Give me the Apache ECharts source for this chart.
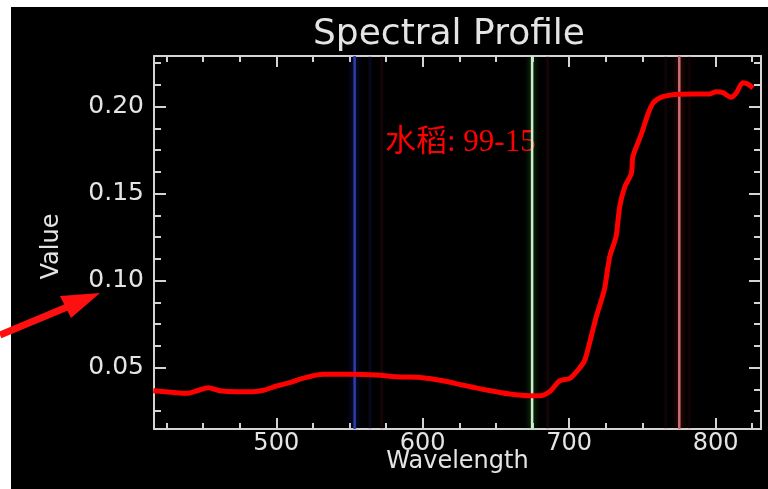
<!DOCTYPE html>
<html>
<head>
<meta charset="utf-8">
<script src="https://cdn.jsdelivr.net/npm/echarts@6.0.0/dist/echarts.min.js"></script>
<style>
  html, body { margin: 0; padding: 0; background: #fff; }
  #chart { width: 768px; height: 489px; }
</style>
</head>
<body>
<div id="chart"></div>
<script>
// spectrum (nm -> reflectance)
const wavelengths = [416, 424, 432, 439, 446, 453.5, 461.5, 473, 484, 492, 500, 509, 518, 532, 550, 568.5, 582,
  600, 614, 627.5, 643.5, 659.5, 673, 680, 687, 693.5, 700.5, 706, 710.5, 715, 718.5, 724, 726.5, 728, 732,
  734.5, 738, 742.5, 743.5, 749.5, 754, 757.5, 764, 775.5, 796, 800.5, 805, 810.5, 814, 818.5, 822, 825.5]
const values = [0.0368, 0.0362, 0.0356, 0.0353, 0.0368, 0.0385, 0.0368, 0.0362, 0.0362, 0.0372, 0.0395, 0.0414,
  0.0439, 0.0462, 0.0462, 0.0458, 0.0448, 0.0443, 0.0425, 0.0400, 0.0372, 0.0349, 0.0339, 0.0339, 0.0365,
  0.0425, 0.0439, 0.0487, 0.0540, 0.0678, 0.0793, 0.0947, 0.1080, 0.1148, 0.1253, 0.1425, 0.1540, 0.1617,
  0.1713, 0.1847, 0.1962, 0.2023, 0.2057, 0.2071, 0.2073, 0.2086, 0.2081, 0.2054, 0.2077, 0.2138, 0.2130, 0.2106]

// RGB band markers
const bandWavelengths = [553.5, 674.7, 775.2]
const bandColors = ['#2e3ea6', '#d0ecd0', '#c87070']
const bandGlow = ['rgba(40,60,220,0.6)', 'rgba(60,200,60,0.6)', 'rgba(220,40,40,0.6)']
const faintWavelengths = [564, 572, 685.3, 766, 782]
const faintColors = ['rgba(40,40,140,0.2)', 'rgba(110,20,30,0.18)', 'rgba(110,20,30,0.18)', 'rgba(110,20,30,0.15)', 'rgba(110,20,30,0.15)']

// ticks
const xMajor = [500, 600, 700, 800]
const xMinor = [425, 450, 475, 525, 550, 575, 625, 650, 675, 725, 750, 775, 825]
const yMajor = [0.05, 0.10, 0.15, 0.20]
const yMinor = [0.025, 0.0375, 0.0625, 0.075, 0.0875, 0.1125, 0.125, 0.1375, 0.1625, 0.175, 0.1875, 0.2125, 0.225]

const xMin = 416.5, xMax = 831
const yMin = 0.0148, yMax = 0.2291

const axisColor = '#d4d4d4'
const textColor = '#e4e4e4'
const font = 'DejaVu Sans'

function makeAxis(pos, ticks, len, withLine, min, max, extra) {
  return Object.assign({
    type: 'value',
    position: pos,
    min: min,
    max: max,
    splitLine: { show: false },
    axisLine: { show: withLine, onZero: false, lineStyle: { color: axisColor, width: 2 } },
    axisTick: { show: true, inside: true, length: len, customValues: ticks, lineStyle: { color: axisColor, width: 2 } },
    axisLabel: { show: false },
  }, extra || {})
}

const chart = echarts.init(document.getElementById('chart'))

const pts = wavelengths.map((w, i) => [w, values[i]])

const bandSeries = bandWavelengths.map((w, i) => ({
  type: 'line',
  data: [[w, yMin], [w, yMax]],
  symbol: 'none',
  z: 1,
  silent: true,
  lineStyle: { color: bandColors[i], width: 2.5, shadowBlur: 6, shadowColor: bandGlow[i] },
}))
const faintSeries = faintWavelengths.map((w, i) => ({
  type: 'line',
  data: [[w, yMin], [w, yMax]],
  symbol: 'none',
  z: 1,
  silent: true,
  lineStyle: { color: faintColors[i], width: 3 },
}))

chart.setOption({
  backgroundColor: '#000',
  animation: false,
  title: {
    text: 'Spectral Profile',
    left: 313,
    top: 17,
    padding: 0,
    textStyle: { color: textColor, fontFamily: font, fontSize: 36, fontWeight: 'normal' },
  },
  grid: { left: 154, right: 7, top: 56, bottom: 60 },
  xAxis: [
    makeAxis('bottom', xMajor, 11, true, xMin, xMax, {
      axisLabel: {
        show: true, customValues: xMajor, margin: 3,
        color: textColor, fontFamily: font, fontSize: 24,
      },
      name: 'Wavelength',
      nameLocation: 'middle',
      nameGap: 21,
      nameMoveOverlap: false,
      nameTextStyle: { color: textColor, fontFamily: font, fontSize: 24 },
    }),
    makeAxis('bottom', xMinor, 6, false, xMin, xMax),
    makeAxis('top', xMajor, 11, true, xMin, xMax),
    makeAxis('top', xMinor, 6, false, xMin, xMax),
  ],
  yAxis: [
    makeAxis('left', yMajor, 12, true, yMin, yMax, {
      axisLabel: {
        show: true, customValues: yMajor, margin: 10,
        color: textColor, fontFamily: font, fontSize: 25,
        formatter: v => v.toFixed(2),
      },
      name: 'Value',
      nameLocation: 'middle',
      nameRotate: 90,
      nameGap: 90,
      nameMoveOverlap: false,
      nameTextStyle: { color: textColor, fontFamily: font, fontSize: 24, padding: [0, 8, 0, 0] },
    }),
    makeAxis('left', yMinor, 7, false, yMin, yMax),
    makeAxis('right', yMajor, 12, true, yMin, yMax),
    makeAxis('right', yMinor, 7, false, yMin, yMax),
  ],
  series: [
    ...faintSeries,
    ...bandSeries,
    {
      type: 'line',
      data: pts,
      symbol: 'none',
      smooth: 0.25,
      z: 3,
      lineStyle: { color: '#ff0000', width: 5 },
    },
  ],
  graphic: [
    // white margins around the screenshot
    { type: 'rect', shape: { x: 0, y: 0, width: 768, height: 7 }, style: { fill: '#fff' } },
    { type: 'rect', shape: { x: 0, y: 0, width: 11, height: 489 }, style: { fill: '#fff' } },
    // annotation
    {
      type: 'text', x: 385, y: 143,
      style: {
        text: '水稻: 99-15', fill: '#ff0000',
        font: '31px "Liberation Serif", "Noto Sans CJK SC", serif',
        verticalAlign: 'middle',
      },
    },
    // arrow pointing at 0.10
    { type: 'line', shape: { x1: 0, y1: 335, x2: 72, y2: 305 }, style: { stroke: '#ff1010', lineWidth: 7 } },
    { type: 'polygon', shape: { points: [[100, 293], [60, 296], [71, 318]] }, style: { fill: '#ff1010' } },
  ],
})
</script>
</body>
</html>
